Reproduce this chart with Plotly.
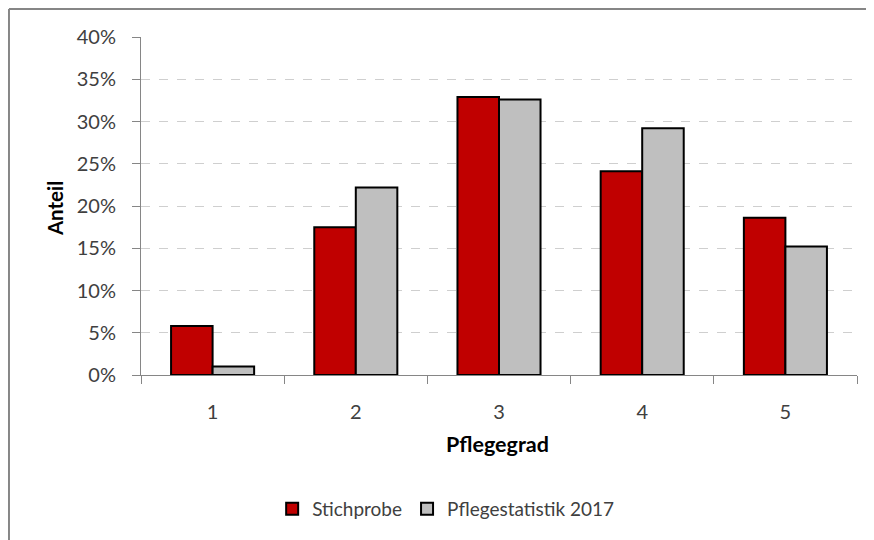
import plotly.graph_objects as go

# Pflegegrad 1..5, Anteil in Prozent
pflegegrad = ["1", "2", "3", "4", "5"]
stichprobe = [5.8, 17.5, 32.9, 24.1, 18.6]
pflegestatistik_2017 = [1.0, 22.2, 32.6, 29.2, 15.2]

y_ticks = [0, 5, 10, 15, 20, 25, 30, 35, 40]
y_labels = [f"{v}%" for v in y_ticks]

font_fam = "Lato, Open Sans, sans-serif"
axis_grey = "#868686"
text_grey = "#404040"

fig = go.Figure()
fig.add_trace(go.Bar(x=pflegegrad, y=stichprobe, name="Stichprobe",
                     marker=dict(color="#C00000",
                                 line=dict(color="black", width=2))))
fig.add_trace(go.Bar(x=pflegegrad, y=pflegestatistik_2017,
                     name="Pflegestatistik 2017",
                     marker=dict(color="#BFBFBF",
                                 line=dict(color="black", width=2))))

# page has an 8px body margin, so margins are shifted to compensate
fig.update_layout(
    width=874, height=540,
    margin=dict(l=133, r=25, t=29, b=173),
    paper_bgcolor="white", plot_bgcolor="white",
    barmode="group", bargap=0.42, bargroupgap=0,
    font=dict(family=font_fam, size=17, color=text_grey),
    showlegend=True,
    legend=dict(orientation="h", x=0.4255, xanchor="center",
                y=-0.396, yanchor="middle",
                font=dict(size=19, color=text_grey),
                itemwidth=30, traceorder="normal"),
    xaxis=dict(
        showline=True, linecolor=axis_grey, linewidth=1,
        ticks="outside", tickson="boundaries", ticklen=8,
        tickcolor=axis_grey, showgrid=False,
        ticklabelstandoff=19,
        tickfont=dict(size=20, color=text_grey),
    ),
    yaxis=dict(
        range=[0, 40], tickvals=y_ticks, ticktext=y_labels,
        showline=True, linecolor=axis_grey, linewidth=1,
        ticks="outside", ticklen=8, tickcolor=axis_grey,
        showgrid=True, gridcolor="#CFCFCF", griddash="dash", gridwidth=1,
        zeroline=False, ticklabelstandoff=12,
        tickfont=dict(size=20, color=text_grey),
    ),
)

# axis titles
fig.add_annotation(text="<b>Anteil</b>", xref="paper", yref="paper",
                   x=-0.120, y=0.491, xanchor="center", yanchor="middle",
                   textangle=-90, showarrow=False,
                   font=dict(size=20.5, color="black"))
fig.add_annotation(text="<b>Pflegegrad</b>", xref="paper", yref="paper",
                   x=0.4986, y=-0.204, xanchor="center", yanchor="middle",
                   showarrow=False,
                   font=dict(size=21.5, color="black"))

# outer chart border (top and left edges visible)
fig.add_shape(type="line", xref="paper", yref="paper",
              x0=-0.1844, x1=1.1, y0=1.0828, y1=1.0828,
              line=dict(color=axis_grey, width=2))
fig.add_shape(type="line", xref="paper", yref="paper",
              x0=-0.1844, x1=-0.1844, y0=1.0828, y1=-0.6,
              line=dict(color=axis_grey, width=2))

fig.write_html("out.html")
